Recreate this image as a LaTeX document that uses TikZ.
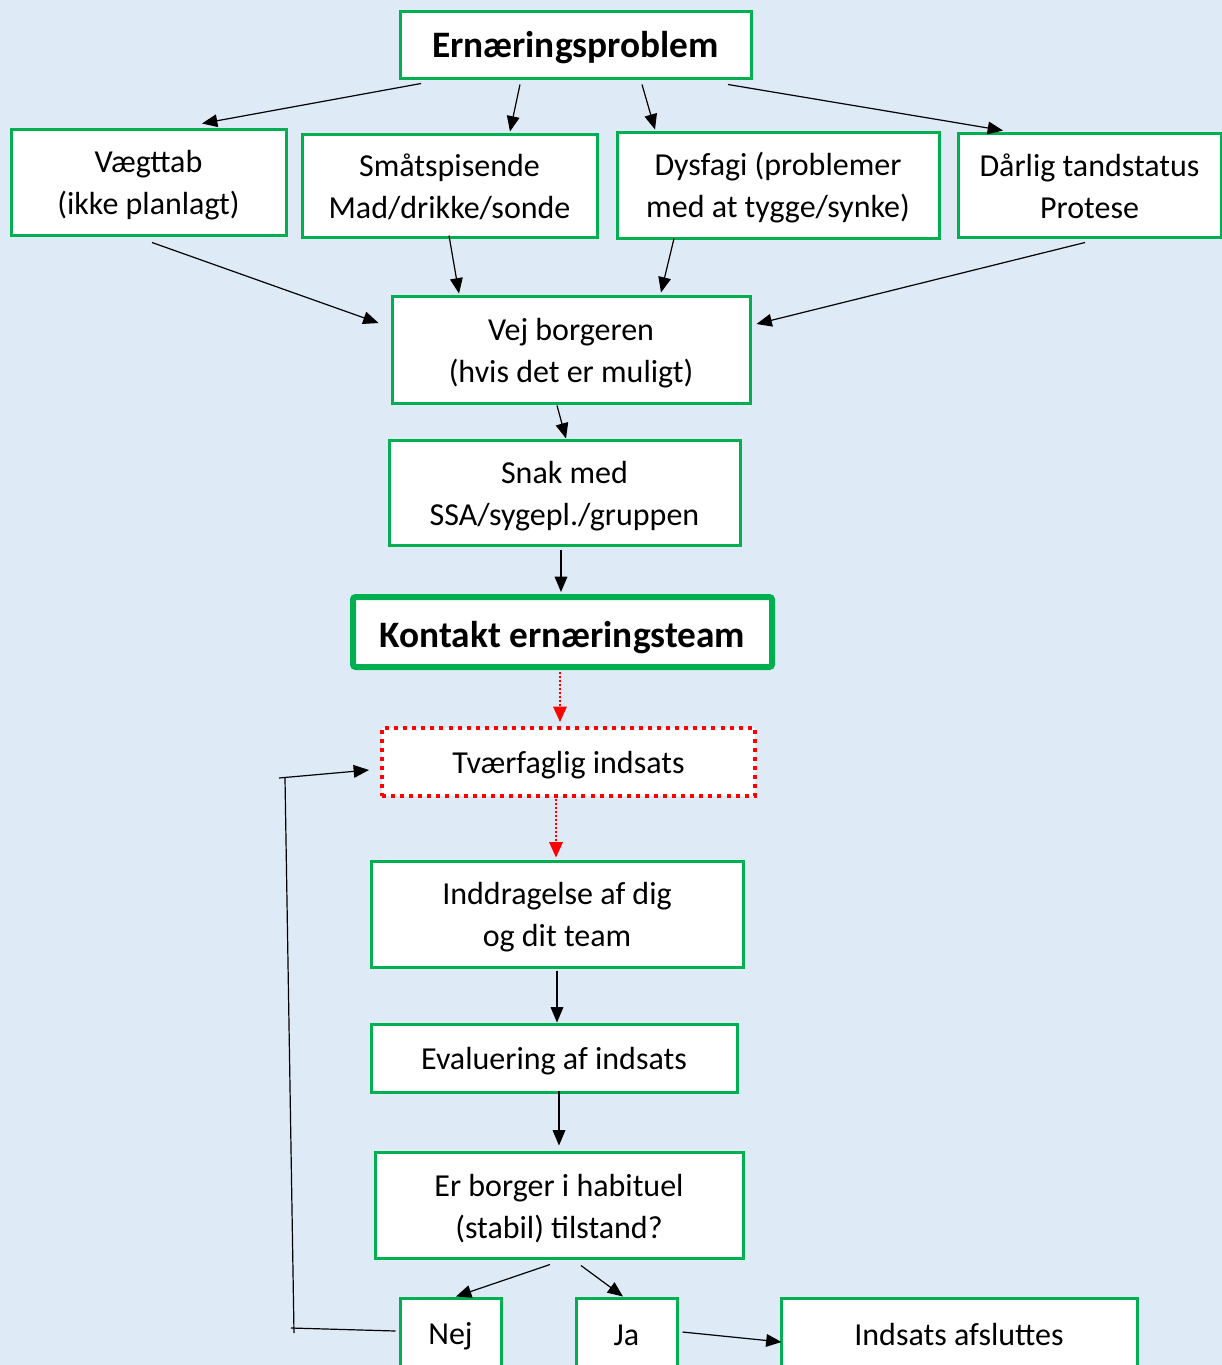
\documentclass[tikz,border=0pt]{standalone}
\usepackage{fontspec}
\setmainfont{Carlito}
\usetikzlibrary{arrows.meta,calc}
\definecolor{bgblue}{HTML}{DEEAF6}
\definecolor{boxgreen}{HTML}{00B050}
\definecolor{dotred}{HTML}{FF0000}
\newcommand\mytop{\rule{0pt}{22pt}}
\newcommand\mybot{\rule[-4pt]{0pt}{4pt}}
\begin{document}
\begin{tikzpicture}[x=0.75pt,y=-0.75pt,
  box/.style={draw=boxgreen,line width=2.25pt,fill=white,align=center,inner sep=0pt,
    font=\fontsize{24}{31.5}\selectfont},
  titlebox/.style={box,font=\fontsize{28}{32}\selectfont\bfseries},
  kbox/.style={titlebox,line width=4.5pt,rounded corners=2pt},
  redbox/.style={box,draw=dotred,line width=3pt,dash pattern=on 3pt off 3.8pt},
  conn/.style={-{Triangle[length=11.5pt,width=9.5pt]},line width=0.9pt},
  rconn/.style={-{Triangle[length=11.5pt,width=10pt]},line width=1.5pt,draw=dotred,fill=dotred,dash pattern=on 1.5pt off 1.5pt},
  plain/.style={line width=0.9pt}
]
\fill[bgblue] (0,0) rectangle (1222,1365);
\useasboundingbox (0,0) rectangle (1222,1365);
\clip (0,0) rectangle (1222,1365);

\node[titlebox,minimum width=263.25pt,minimum height=50.25pt] (ern) at (575.5,44.5) {\rule[-5pt]{0pt}{30pt}Ernæringsproblem};
\node[box,minimum width=206.25pt,minimum height=79.5pt] (vaeg) at (148.5,182) {\mytop Vægttab\\(ikke planlagt)\mybot};
\node[box,minimum width=221.25pt,minimum height=77.25pt] (smaa) at (449.5,185.5) {\mytop Småtspisende\\Mad/drikke/sonde\mybot};
\node[box,minimum width=241.5pt,minimum height=79.5pt] (dys) at (778,185) {\mytop Dysfagi (problemer\\med at tygge/synke)\mybot};
\node[box,minimum width=197.25pt,minimum height=78pt] (daar) at (1089.5,185) {\mytop Dårlig tandstatus\\Protese\mybot};
\node[box,minimum width=268.5pt,minimum height=80.25pt] (vej) at (571,349.5) {\mytop Vej borgeren\\(hvis det er muligt)\mybot};
\node[box,minimum width=263.25pt,minimum height=78.75pt] (snak) at (564.5,492.5) {\mytop Snak med\\SSA/sygepl./gruppen\mybot};
\node[kbox,minimum width=314.25pt,minimum height=52.5pt] (kont) at (562.5,632) {\rule[-5pt]{0pt}{33pt}Kontakt ernæringsteam};
\node[redbox,minimum width=279.75pt,minimum height=51pt] (tvaer) at (568.5,762) {\mytop Tværfaglig indsats\mybot};
\node[box,minimum width=279pt,minimum height=79.5pt] (indd) at (557,914) {\mytop Inddragelse af dig\\og dit team\mybot};
\node[box,minimum width=274.5pt,minimum height=51pt] (eval) at (554,1058) {\mytop Evaluering af indsats\mybot};
\node[box,minimum width=276pt,minimum height=79.5pt] (erb) at (559,1205) {\mytop Er borger i habituel\\(stabil) tilstand?\mybot};
\node[box,minimum width=75.75pt,minimum height=52.5pt] (nej) at (450.5,1333) {\mytop Nej\mybot};
\node[box,minimum width=75.75pt,minimum height=52.5pt] (ja) at (626.5,1333) {\mytop Ja\mybot};
\node[box,minimum width=267pt,minimum height=52.5pt] (inds) at (959,1333) {\mytop Indsats afsluttes\mybot};

\draw[conn] ($(ern.south)+(-154.5,4)$) -- ($(vaeg.north)+(53.5,-4)$);
\draw[conn] ($(ern.south)+(-55.5,5)$) -- ($(smaa.north)+(60.5,-1)$);
\draw[conn] ($(ern.south)+(66.5,5)$) -- ($(dys.north)+(-123,-1)$);
\draw[conn] ($(ern.south)+(152.5,5)$) -- ($(daar.north)+(-86.5,-1)$);
\draw[conn] ($(vaeg.south)+(3.5,6)$) -- ($(vej.west)+(-12,-26.5)$);
\draw[conn] ($(smaa.south)+(-0.5,-3)$) -- ($(vej.north)+(-112,-1)$);
\draw[conn] ($(dys.south)+(-104,-1)$) -- ($(vej.north)+(90,-2)$);
\draw[conn] ($(daar.south)+(-4.5,4)$) -- ($(vej.east)+(5,-25.5)$);
\draw[conn] ($(vej.south)+(-14,1)$) -- ($(snak.north)+(1.5,0)$);
\draw[conn] ($(snak.south)+(-3.5,3)$) -- ($(kont.north)+(-1.5,-2)$);
\draw[rconn] ($(kont.south)+(-2.5,2)$) -- ($(tvaer.north)+(-8.5,-4)$);
\draw[rconn] ($(tvaer.south)+(-12.5,1)$) -- ($(indd.north)+(-1,-2)$);
\draw[conn] ($(indd.south)+(0,2)$) -- ($(eval.north)+(3,0)$);
\draw[conn] ($(eval.south)+(5,-3)$) -- ($(erb.north)+(0,-5)$);
\draw[conn] ($(erb.south)+(-9,5)$) -- ($(nej.north)+(5.5,0)$);
\draw[conn] ($(erb.south)+(22,6)$) -- ($(ja.north)+(-3.5,0)$);
\draw[conn] ($(ja.east)+(4,-1)$) -- ($(inds.west)+(2,9)$);

\coordinate (lbh) at (291,1328);
\coordinate (lbv) at (294,1333);
\coordinate (ltv) at (285,778);
\coordinate (lth) at (279,778);
\draw[plain] ($(nej.west)+(-3,-2)$) -- (lbh);
\draw[plain] (lbv) -- (ltv);
\draw[conn] (lth) -- ($(tvaer.west)+(-11,8)$);
\end{tikzpicture}
\end{document}
